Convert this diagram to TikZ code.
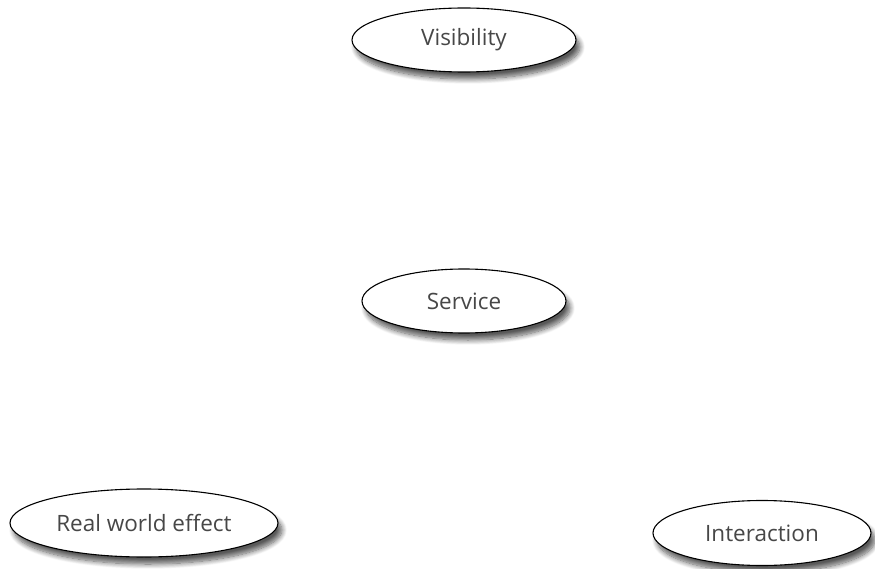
\documentclass[tikz,border=0pt]{standalone}
\usepackage{fontspec}
\setmainfont{Open Sans}
\usetikzlibrary{shapes.geometric,shadows.blur}
\begin{document}
\begin{tikzpicture}[x=1pt,y=-1pt,
  concept/.style={ellipse, draw=black, line width=1.1pt, fill=white, inner sep=0pt,
    blur shadow={shadow xshift=4pt, shadow yshift=-7pt, shadow blur radius=5pt, shadow blur steps=10, shadow opacity=65},
    font=\fontsize{22.5}{26}\selectfont, text=black!72},
]
\useasboundingbox (0,0) rectangle (875,569);
\node[concept, minimum width=224pt, minimum height=64pt] (vis) at (464,40) {Visibility};
\node[concept, minimum width=204pt, minimum height=64pt] (svc) at (464,301) {Service};
\node[concept, minimum width=268pt, minimum height=68pt] (rwe) at (144,523) {Real world effect};
\node[concept, minimum width=218pt, minimum height=65pt] (int) at (762,533) {Interaction};
\end{tikzpicture}
\end{document}
